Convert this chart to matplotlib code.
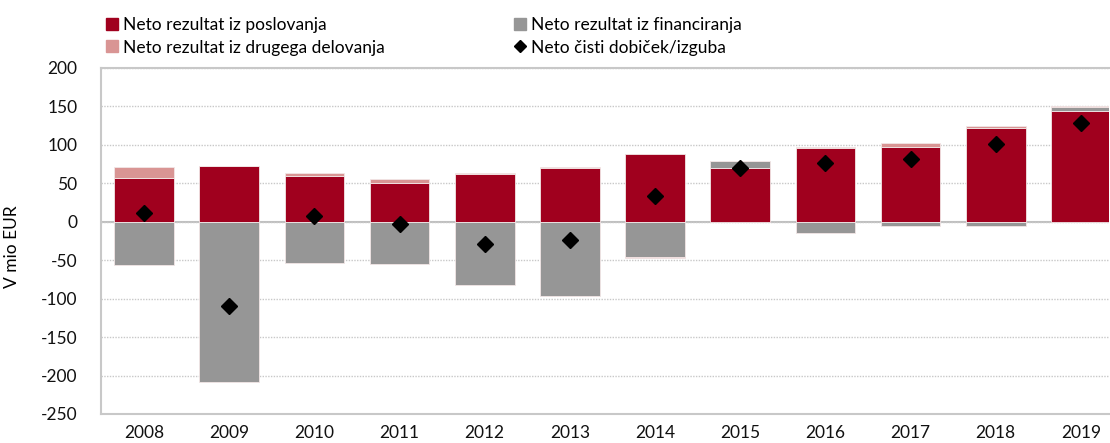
import numpy as np
import matplotlib
matplotlib.use("Agg")
import matplotlib.pyplot as plt
from matplotlib.lines import Line2D

years = ["2008", "2009", "2010", "2011", "2012", "2013", "2014", "2015", "2016", "2017", "2018", "2019"]
poslovanje = [57, 72, 60, 51, 62, 70, 88, 70, 96, 97, 122, 144]
financiranje = [-56, -208, -53, -55, -82, -97, -46, 9, -15, -5, -6, 5]
drugo = [14, 1, 3, 4, 2, 1, -1, 0, 1, 5, 2, 2]
neto = [11, -110, 8, -3, -29, -24, 34, 70, 77, 81, 101, 129]

labels = ["Neto rezultat iz poslovanja", "Neto rezultat iz financiranja",
          "Neto rezultat iz drugega delovanja", "Neto čisti dobiček/izguba"]
c_red = "#A0001E"
c_gray = "#969696"
c_pink = "#D99594"

plt.rcParams['font.family'] = ['Lato', 'DejaVu Sans']
plt.rcParams['axes.unicode_minus'] = False
fig = plt.figure(figsize=(11.1, 4.43), dpi=100)
ax = fig.add_axes([101/1110, 1-414/443, 1008/1110, 346/443])

x = np.arange(len(years))
pos_base = np.zeros(len(years))
neg_base = np.zeros(len(years))
w = 0.7
for vals, col in [(poslovanje, c_red), (financiranje, c_gray), (drugo, c_pink)]:
    v = np.array(vals, dtype=float)
    bottoms = np.where(v >= 0, pos_base, neg_base)
    ax.bar(x, v, w, bottom=bottoms, color=col, edgecolor="#f2e6e6", linewidth=0.6, zorder=2)
    pos_base = pos_base + np.where(v >= 0, v, 0)
    neg_base = neg_base + np.where(v < 0, v, 0)

ax.plot(x, neto, linestyle="none", marker="D", markersize=8, color="black", zorder=4)

ax.set_xlim(-0.505, 11.33)
ax.set_ylim(-250, 200)
ax.set_yticks(np.arange(-250, 201, 50))
ax.set_xticks(x)
ax.set_xticklabels(years)
ax.tick_params(axis='both', length=0, labelsize=12.5, colors="#111111")
ax.tick_params(axis='y', pad=17)
ax.tick_params(axis='x', pad=8)
ax.grid(axis='y', linestyle=(0, (1, 1)), color="#c8c8c8", linewidth=1, zorder=0)
ax.axhline(0, color="#c0c0c0", linewidth=1.5, zorder=1)
for s in ["left", "top", "bottom", "right"]:
    ax.spines[s].set_color("#c8c8c8")
    ax.spines[s].set_linewidth(1.5)
ax.spines["right"].set_visible(False)
ax.set_ylabel("V mio EUR", fontsize=12.5)
ax.yaxis.set_label_coords(-0.080, 0.483)

h_red = Line2D([], [], linestyle="none", marker="s", markersize=8, color=c_red)
h_pink = Line2D([], [], linestyle="none", marker="s", markersize=8, color=c_pink)
h_gray = Line2D([], [], linestyle="none", marker="s", markersize=8, color=c_gray)
h_dia = Line2D([], [], linestyle="none", marker="D", markersize=6, color="black")

common = dict(loc="center left", frameon=False, fontsize=12.5, handlelength=0.8,
              handletextpad=0.25, labelspacing=0.35, borderpad=0, borderaxespad=0)
leg1 = fig.legend([h_red, h_pink], [labels[0], labels[2]],
                  bbox_to_anchor=(105/1110, 1-36.5/443), **common)
leg2 = fig.legend([h_gray, h_dia], [labels[1], labels[3]],
                  bbox_to_anchor=(513/1110, 1-36.5/443), **common)

fig.savefig("out.png", dpi=100)
